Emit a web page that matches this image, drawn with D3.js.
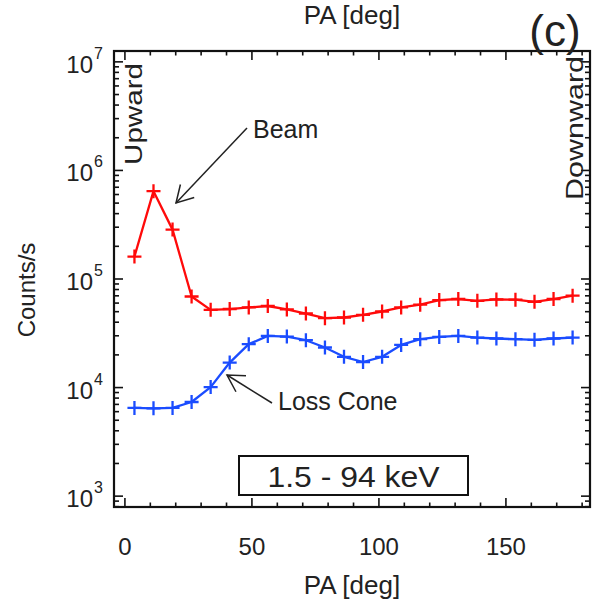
<!DOCTYPE html>
<html>
<head>
<meta charset="utf-8">
<script src="https://cdn.jsdelivr.net/npm/d3@7"></script>
<style>
  html, body { margin: 0; padding: 0; background: #fff; }
  text { font-family: "Liberation Sans", Arial, Helvetica, sans-serif; fill: #222; }
</style>
</head>
<body>
<svg id="chart" width="593" height="603"></svg>
<script>
// ---------- data ----------
const pitchAngles = [3.75, 11.25, 18.75, 26.25, 33.75, 41.25, 48.75, 56.25, 63.75, 71.25, 78.75, 86.25,
                     93.75, 101.25, 108.75, 116.25, 123.75, 131.25, 138.75, 146.25, 153.75, 161.25, 168.75, 176.25];
const beamCounts = [1.61e5, 6.44e5, 2.85e5, 6.9e4, 5.2e4, 5.29e4, 5.47e4, 5.64e4, 5.24e4, 4.81e4, 4.36e4, 4.42e4,
                    4.68e4, 5.02e4, 5.47e4, 5.8e4, 6.4e4, 6.54e4, 6.3e4, 6.49e4, 6.45e4, 6.17e4, 6.54e4, 7.02e4];
const lossConeCounts = [6.5e3, 6.44e3, 6.5e3, 7.36e3, 1.01e4, 1.70e4, 2.51e4, 2.99e4, 2.95e4, 2.73e4, 2.34e4, 1.92e4,
                        1.72e4, 1.92e4, 2.47e4, 2.79e4, 2.93e4, 2.99e4, 2.89e4, 2.83e4, 2.79e4, 2.75e4, 2.83e4, 2.89e4];
const xMajorTicks = [0, 50, 100, 150];
const xMinorTicks = [10, 20, 30, 40, 60, 70, 80, 90, 110, 120, 130, 140, 160, 170, 180];
const yDecadeExponents = [3, 4, 5, 6, 7];
const xTitle = "PA [deg]";
const yTitle = "Counts/s";
const panelLabel = "(c)";
const energyLabel = "1.5 - 94 keV";

// ---------- layout ----------
const svg = d3.select("#chart");
const L = 114, R = 590, T = 51, B = 507;
const x = d3.scaleLinear().domain([-4.3, 183.1]).range([L, R]);
const y = d3.scaleLog().domain([Math.pow(10, 2.9), Math.pow(10, 7.1)]).range([B, T]);

const axisColor = "#111";

// minor log ticks
const yMinor = [];
for (let e = 2; e <= 7; e++) {
  for (let m = 2; m <= 9; m++) {
    const v = m * Math.pow(10, e);
    if (v >= y.domain()[0] && v <= y.domain()[1]) yMinor.push(v);
  }
}
const yMajor = yDecadeExponents.map(e => Math.pow(10, e));

const g = svg.append("g");

// ticks (inward, mirrored)
const tickG = g.append("g").attr("stroke", axisColor).attr("stroke-width", 1.6);
xMajorTicks.forEach(v => {
  tickG.append("line").attr("x1", x(v)).attr("x2", x(v)).attr("y1", B).attr("y2", B - 9);
  tickG.append("line").attr("x1", x(v)).attr("x2", x(v)).attr("y1", T).attr("y2", T + 9);
});
xMinorTicks.forEach(v => {
  tickG.append("line").attr("x1", x(v)).attr("x2", x(v)).attr("y1", B).attr("y2", B - 4.5);
  tickG.append("line").attr("x1", x(v)).attr("x2", x(v)).attr("y1", T).attr("y2", T + 4.5);
});
yMajor.forEach(v => {
  tickG.append("line").attr("x1", L).attr("x2", L + 9).attr("y1", y(v)).attr("y2", y(v));
  tickG.append("line").attr("x1", R).attr("x2", R - 9).attr("y1", y(v)).attr("y2", y(v));
});
yMinor.forEach(v => {
  tickG.append("line").attr("x1", L).attr("x2", L + 5).attr("y1", y(v)).attr("y2", y(v));
  tickG.append("line").attr("x1", R).attr("x2", R - 5).attr("y1", y(v)).attr("y2", y(v));
});

// frame
g.append("rect").attr("x", L).attr("y", T).attr("width", R - L).attr("height", B - T)
  .attr("fill", "none").attr("stroke", axisColor).attr("stroke-width", 2.2);

// x tick labels
xMajorTicks.forEach(v => {
  g.append("text").attr("x", x(v)).attr("y", 555).attr("text-anchor", "middle")
    .attr("font-size", 24).text(v);
});
// y tick labels
yDecadeExponents.forEach(e => {
  const yy = y(Math.pow(10, e));
  g.append("text").attr("x", 93).attr("y", yy + 11).attr("text-anchor", "end")
    .attr("font-size", 24).text("10");
  g.append("text").attr("x", 94).attr("y", yy - 3).attr("text-anchor", "start")
    .attr("font-size", 16).text(e);
});

// titles
g.append("text").attr("x", 352).attr("y", 594).attr("text-anchor", "middle").attr("font-size", 26).text(xTitle);
g.append("text").attr("x", 352).attr("y", 24).attr("text-anchor", "middle").attr("font-size", 26).text(xTitle);
g.append("text").attr("transform", "translate(35,290) rotate(-90)").attr("text-anchor", "middle")
  .attr("font-size", 24).text(yTitle);
g.append("text").attr("x", 555).attr("y", 46).attr("text-anchor", "middle").attr("font-size", 44).text(panelLabel);

// direction labels
g.append("text").attr("transform", "translate(142,165) rotate(-90)").attr("font-size", 24)
  .attr("textLength", 102).attr("lengthAdjust", "spacingAndGlyphs").text("Upward");
g.append("text").attr("transform", "translate(583,200) rotate(-90)").attr("font-size", 24)
  .attr("textLength", 144).attr("lengthAdjust", "spacingAndGlyphs").text("Downward");

// data series
function drawSeries(values, color) {
  const pts = pitchAngles.map((a, i) => [x(a), y(values[i])]);
  g.append("path").attr("d", d3.line()(pts)).attr("fill", "none")
    .attr("stroke", color).attr("stroke-width", 2.3).attr("stroke-linejoin", "round");
  const s = 7;
  pts.forEach(p => {
    g.append("path").attr("d", `M${p[0] - s},${p[1]}H${p[0] + s}M${p[0]},${p[1] - s}V${p[1] + s}`)
      .attr("stroke", color).attr("stroke-width", 2.3).attr("fill", "none");
  });
}
drawSeries(beamCounts, "#ff0a0a");
drawSeries(lossConeCounts, "#1a4cff");

// annotations with open arrows
function arrow(x1, y1, x2, y2) {
  const ang = Math.atan2(y1 - y2, x1 - x2);
  const len = 19, spread = Math.PI / 6;
  const a = g.append("g").attr("stroke", "#222").attr("stroke-width", 1.5).attr("fill", "none");
  a.append("line").attr("x1", x1).attr("y1", y1).attr("x2", x2).attr("y2", y2);
  a.append("path").attr("d",
    `M${x2 + len * Math.cos(ang - spread)},${y2 + len * Math.sin(ang - spread)}L${x2},${y2}L${x2 + len * Math.cos(ang + spread)},${y2 + len * Math.sin(ang + spread)}`);
}
arrow(247, 128, 176, 203);
g.append("text").attr("x", 253).attr("y", 138).attr("font-size", 25).text("Beam");
arrow(272, 403, 227, 375);
g.append("text").attr("x", 278).attr("y", 410).attr("font-size", 25).text("Loss Cone");

// energy box
g.append("rect").attr("x", 239).attr("y", 456).attr("width", 229).attr("height", 39)
  .attr("fill", "#fff").attr("stroke", axisColor).attr("stroke-width", 2);
g.append("text").attr("x", 353.5).attr("y", 487).attr("text-anchor", "middle").attr("font-size", 29)
  .attr("textLength", 172).attr("lengthAdjust", "spacingAndGlyphs").text(energyLabel);
</script>
</body>
</html>
